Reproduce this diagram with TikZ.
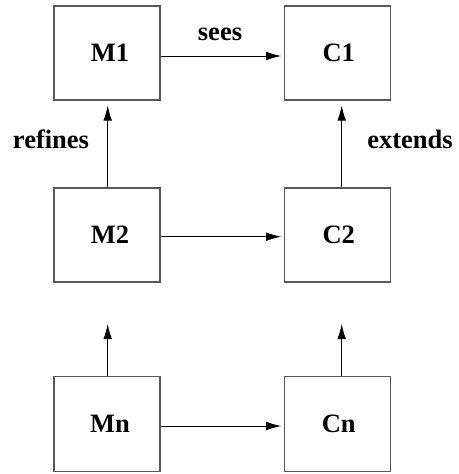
\documentclass[tikz,border=0pt]{standalone}
\usepackage{fontspec}
\setmainfont{Liberation Serif}
\usetikzlibrary{arrows.meta,calc}
\begin{document}
\begin{tikzpicture}[x=1pt,y=1pt,
  font=\fontsize{26.5}{31}\selectfont\bfseries,
  boxnode/.style={draw=black!65,line width=1.1pt,fill=white,inner sep=0pt,
    minimum width=106pt,minimum height=94pt},
  link/.style={draw=black,line width=0.8pt,
    -{Latex[length=15pt,width=8.5pt]}},
  tag/.style={inner sep=0pt}]
\useasboundingbox (0,0) rectangle (458,-474);
% machines (left column) and contexts (right column)
\node[boxnode] (M1) at (107,-53)  {\hspace*{6pt}M1};
\node[boxnode] (C1) at (337.7,-53) {\hspace*{2pt}C1};
\node[boxnode] (M2) at (107,-235) {\hspace*{6pt}M2};
\node[boxnode] (C2) at (337.7,-235) {\hspace*{2pt}C2};
\node[boxnode,minimum height=95pt] (Mn) at (107,-424.2) {\hspace*{6pt}Mn};
\node[boxnode,minimum height=95pt] (Cn) at (337.7,-424.2) {\hspace*{2pt}Cn};
% open ends of the arrows rising from the last row
\coordinate (Mtop) at (107.7,-324);
\coordinate (Ctop) at (341.7,-324);
% horizontal links
\draw[link,shorten >=3pt] ($(M1.east)+(0,-3)$) -- ($(C1.west)+(0,-3)$);
\draw[link,shorten >=3pt] ($(M2.east)+(0,-1.7)$) -- ($(C2.west)+(0,-1.7)$);
\draw[link,shorten >=3pt] ($(Mn.east)+(0,-1.8)$) -- ($(Cn.west)+(0,-1.8)$);
% vertical links
\draw[link,shorten >=5pt] ($(M2.north)+(0.7,0)$) -- ($(M1.south)+(0.7,0)$);
\draw[link,shorten >=5pt] ($(C2.north)+(4,0)$) -- ($(C1.south)+(4,0)$);
\draw[link] ($(Mn.north)+(0.7,0)$) -- (Mtop);
\draw[link] ($(Cn.north)+(4,0)$) -- (Ctop);
% labels
\node[tag] (sees) at (220,-34) {sees};
\node[tag] (refines) at (51,-139) {refines};
\node[tag] (extends) at (410,-139) {extends};
\end{tikzpicture}
\end{document}
